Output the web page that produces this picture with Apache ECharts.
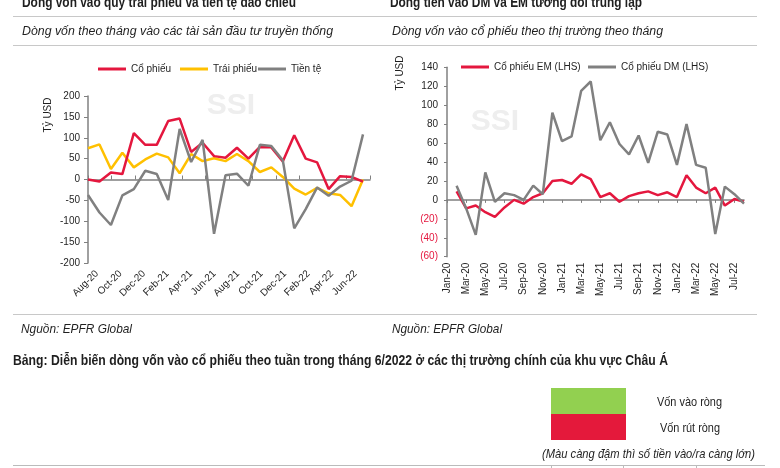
<!DOCTYPE html>
<html><head><meta charset="utf-8">
<script src="https://cdn.jsdelivr.net/npm/echarts@6/dist/echarts.min.js"></script>
<style>html,body{margin:0;padding:0;background:#fff}#c{width:780px;height:468px}</style>
</head><body><div id="c"></div>
<script>
// ---- Left chart data (monthly flows, bn USD)
const leftCats = ['Aug-20','Sep-20','Oct-20','Nov-20','Dec-20','Jan-21','Feb-21','Mar-21','Apr-21','May-21','Jun-21','Jul-21','Aug-21','Sep-21','Oct-21','Nov-21','Dec-21','Jan-22','Feb-22','Mar-22','Apr-22','May-22','Jun-22','Jul-22','Aug-22'];
const coPhieu   = [0,-5,17,13,111,83,83,140,146,66,88,56,52,76,50,78,77,43,106,50,41,-23,8,6,-5];
const traiPhieu = [75,84,25,64,29,48,62,53,15,61,44,51,44,61,44,18,29,6,-22,-36,-20,-33,-37,-64,0];
const tienTe    = [-37,-79,-109,-38,-23,21,13,-49,121,42,95,-130,10,14,-15,83,80,46,-117,-71,-19,-39,-17,-3,108];
const leftTicks = [-200,200,50];
// ---- Right chart data
const rightCats = ['Jan-20','Feb-20','Mar-20','Apr-20','May-20','Jun-20','Jul-20','Aug-20','Sep-20','Oct-20','Nov-20','Dec-20','Jan-21','Feb-21','Mar-21','Apr-21','May-21','Jun-21','Jul-21','Aug-21','Sep-21','Oct-21','Nov-21','Dec-21','Jan-22','Feb-22','Mar-22','Apr-22','May-22','Jun-22','Jul-22','Aug-22'];
const emEquity = [null,9,-9,-6,-13,-18,-8,0,-4,3,7,20,21,17,27,22,3,7,-2,4,7,9,5,8,3,26,13,7,13,-6,1,-2];
const dmEquity = [null,15,-9,-37,29,-2,7,5,0,15,6,92,62,67,115,125,63,82,59,48,68,39,72,69,37,80,37,34,-36,14,6,-4];
const rightTicks = [-60,140,20];

const RED='#E4173E', YEL='#FFC000', GRY='#808080', TXT='#1f1f1f';
const ARIAL='"Liberation Sans",Arial,sans-serif';

const mctx = document.createElement('canvas').getContext('2d');
function fitText(text, font, x, y, w, extra){
  mctx.font = font;
  const s = w / mctx.measureText(text).width;
  return Object.assign({type:'text', x:x, y:y, scaleX:s,
    style:{text:text, x:0, y:0, verticalAlign:'middle', font:font, fill:TXT}}, extra||{});
}

const chart = echarts.init(document.getElementById('c'));
const hidY = (g,mn,mx)=>({type:'value',gridIndex:g,min:mn,max:mx,show:false});
const gridTop=96, gridH=167;
const lgText = {fontSize:10, color:TXT, fontFamily:ARIAL};
const mkLegend = (left, top, name)=>({left:left, top:top, padding:0, icon:'rect', itemWidth:28, itemHeight:3, itemGap:4, textStyle:lgText, data:[name]});
const option = {
  animation:false,
  textStyle:{fontFamily:ARIAL},
  grid:[
    {left:88, top:gridTop, width:275, height:gridH},
    {left:88, top:gridTop, width:282, height:gridH},
    {left:97, top:gridTop, width:282, height:gridH},
    {left:447, top:67.3, width:297, height:189.4}
  ],
  legend:[
    mkLegend(98, 64, 'Cổ phiếu'),
    mkLegend(180, 64, 'Trái phiếu'),
    mkLegend(258, 64, 'Tiền tệ'),
    mkLegend(461, 62, 'Cổ phiếu EM (LHS)'),
    mkLegend(588, 62, 'Cổ phiếu DM (LHS)')
  ],
  xAxis:[
    {type:'category', gridIndex:0, data:leftCats, boundaryGap:false, show:false},
    {type:'category', gridIndex:1, data:leftCats, boundaryGap:false, position:'bottom',
     axisLine:{onZero:true, lineStyle:{color:GRY, width:1.5}},
     axisTick:{inside:true, length:4, interval:(i)=>i%2===0, lineStyle:{color:GRY}},
     axisLabel:{show:false}},
    {type:'category', gridIndex:2, data:leftCats, boundaryGap:false, position:'bottom',
     axisLine:{show:false, onZero:false}, axisTick:{show:false},
     axisLabel:{rotate:45, margin:9, fontSize:10, color:TXT, fontFamily:ARIAL,
       interval:(i)=>i%2===0 && i<=22}},
    {type:'category', gridIndex:3, data:rightCats, boundaryGap:false, position:'bottom',
     axisLine:{show:false, onZero:false}, axisTick:{show:false},
     axisLabel:{rotate:90, margin:6, fontSize:10, color:TXT, fontFamily:ARIAL, interval:1}},
    {type:'category', gridIndex:3, data:rightCats, boundaryGap:false, position:'top',
     axisLine:{onZero:true, lineStyle:{color:GRY, width:1.5}},
     axisTick:{inside:true, length:3, interval:1, lineStyle:{color:GRY}},
     axisLabel:{show:false}}
  ],
  yAxis:[
    {type:'value', gridIndex:0, min:leftTicks[0], max:leftTicks[1], interval:leftTicks[2],
     axisLine:{show:true, lineStyle:{color:GRY, width:1.5}},
     axisTick:{show:true, length:4, lineStyle:{color:GRY}},
     splitLine:{show:false},
     axisLabel:{fontSize:10, color:TXT, margin:8, fontFamily:ARIAL}},
    hidY(1,leftTicks[0],leftTicks[1]),
    hidY(2,leftTicks[0],leftTicks[1]),
    {type:'value', gridIndex:3, min:rightTicks[0], max:rightTicks[1], interval:rightTicks[2],
     axisLine:{show:true, lineStyle:{color:GRY, width:1.5}},
     axisTick:{show:true, length:3, lineStyle:{color:GRY}}, splitLine:{show:false},
     axisLabel:{fontSize:10, margin:9, fontFamily:ARIAL,
       color:(v)=>Number(v)<0?RED:TXT,
       formatter:(v)=>v<0?'('+(-v)+')':String(v)}}
  ],
  series:[
    {name:'Cổ phiếu', type:'line', xAxisIndex:0, yAxisIndex:0, data:coPhieu, symbol:'none', color:RED, lineStyle:{width:2.5}, z:4},
    {name:'Trái phiếu', type:'line', xAxisIndex:0, yAxisIndex:0, data:traiPhieu, symbol:'none', color:YEL, lineStyle:{width:2.5}, z:3},
    {name:'Tiền tệ', type:'line', xAxisIndex:0, yAxisIndex:0, data:tienTe, symbol:'none', color:GRY, lineStyle:{width:2.5}, z:5},
    {name:'Cổ phiếu EM (LHS)', type:'line', xAxisIndex:3, yAxisIndex:3, data:emEquity, symbol:'none', color:RED, lineStyle:{width:2.5}, z:3},
    {name:'Cổ phiếu DM (LHS)', type:'line', xAxisIndex:3, yAxisIndex:3, data:dmEquity, symbol:'none', color:GRY, lineStyle:{width:2.5}, z:4}
  ],
  graphic:[
    // watermarks
    {type:'text', z:-1, style:{text:'SSI', x:231, y:106, align:'center', verticalAlign:'middle', font:'bold 30px '+ARIAL, fill:'#EEEEEE'}},
    {type:'text', z:-1, style:{text:'SSI', x:495, y:122, align:'center', verticalAlign:'middle', font:'bold 30px '+ARIAL, fill:'#EEEEEE'}},
    // headers
    fitText('Dòng vốn vào quỹ trái phiếu và tiền tệ đảo chiều', 'bold 14px '+ARIAL, 22, 3, 274),
    fitText('Dòng tiền vào DM và EM tương đối trung lập', 'bold 14px '+ARIAL, 390, 3, 252),
    {type:'line', shape:{x1:13,y1:16.5,x2:757,y2:16.5}, style:{stroke:'#C8C8C8', lineWidth:1}},
    fitText('Dòng vốn theo tháng vào các tài sản đầu tư truyền thống', 'italic 12px '+ARIAL, 22, 32, 311),
    fitText('Dòng vốn vào cổ phiếu theo thị trường theo tháng', 'italic 12px '+ARIAL, 392, 32, 271),
    {type:'line', shape:{x1:13,y1:45.5,x2:757,y2:45.5}, style:{stroke:'#C8C8C8', lineWidth:1}},
    // y axis names
    {type:'text', rotation:Math.PI/2, x:48, y:115, style:{text:'Tỷ USD', align:'center', verticalAlign:'middle', font:'10px '+ARIAL, fill:TXT}},
    {type:'text', rotation:Math.PI/2, x:400, y:73, style:{text:'Tỷ USD', align:'center', verticalAlign:'middle', font:'10px '+ARIAL, fill:TXT}},
    // footer
    {type:'line', shape:{x1:13,y1:314.5,x2:757,y2:314.5}, style:{stroke:'#C8C8C8', lineWidth:1}},
    fitText('Nguồn: EPFR Global', 'italic 13px '+ARIAL, 21, 329, 111),
    fitText('Nguồn: EPFR Global', 'italic 13px '+ARIAL, 392, 329, 110),
    fitText('Bảng: Diễn biến dòng vốn vào cổ phiếu theo tuần trong tháng 6/2022 ở các thị trường chính của khu vực Châu Á', 'bold 14px '+ARIAL, 13, 361, 655),
    // colour key
    {type:'rect', shape:{x:551,y:388,width:75,height:26}, style:{fill:'#92D050'}},
    {type:'rect', shape:{x:551,y:414,width:75,height:26}, style:{fill:'#E4193B'}},
    fitText('Vốn vào ròng', '13px '+ARIAL, 657, 402, 65),
    fitText('Vốn rút ròng', '13px '+ARIAL, 660, 428, 60),
    fitText('(Màu càng đậm thì số tiền vào/ra càng lớn)', 'italic 13px '+ARIAL, 542, 454, 213),
    {type:'line', shape:{x1:13,y1:465.5,x2:765,y2:465.5}, style:{stroke:'#BBBBBB', lineWidth:1}},
    {type:'line', shape:{x1:551.5,y1:465,x2:551.5,y2:468}, style:{stroke:'#BBBBBB', lineWidth:1}},
    {type:'line', shape:{x1:623.5,y1:465,x2:623.5,y2:468}, style:{stroke:'#BBBBBB', lineWidth:1}},
    {type:'line', shape:{x1:696.5,y1:465,x2:696.5,y2:468}, style:{stroke:'#BBBBBB', lineWidth:1}}
  ]
};
chart.setOption(option);
</script></body></html>
